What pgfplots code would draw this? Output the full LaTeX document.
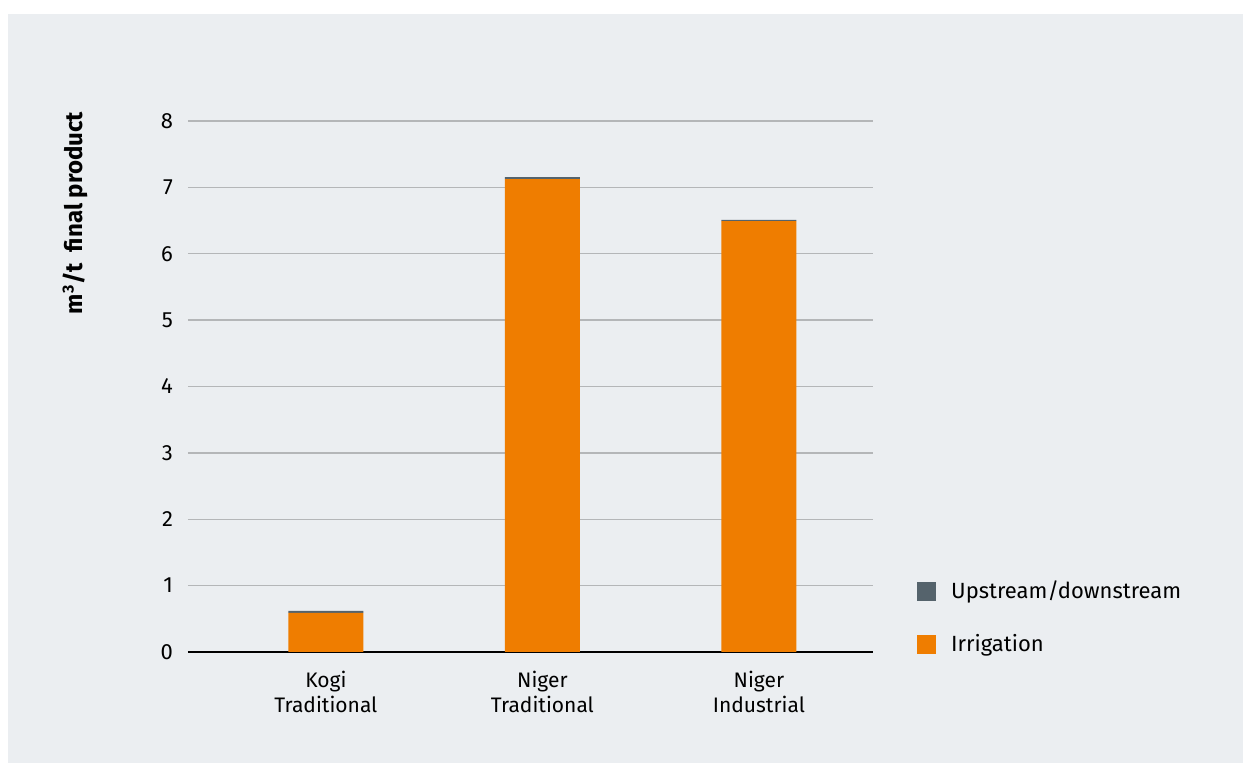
\documentclass[border=0pt]{standalone}
\usepackage{pgfplots}
\pgfplotsset{compat=1.18}
\usepackage{fontspec}
\setmainfont{Fira Sans}
\definecolor{panel}{HTML}{EBEEF1}
\definecolor{irr}{HTML}{EF7D00}
\definecolor{ups}{HTML}{55636C}
\definecolor{gridc}{HTML}{B4B6B8}
\begin{document}
\begin{tikzpicture}[x=1pt,y=1pt]
\useasboundingbox (0pt,0pt) rectangle (621.5pt,381.5pt);
\fill[white] (0pt,0pt) rectangle (621.5pt,381.5pt);
\fill[panel] (4pt,0pt) rectangle (621.5pt,374.5pt);
\node[rotate=90,font=\bfseries\fontsize{12}{14}\selectfont] at (37.5pt,275pt) {m\textsuperscript{3}/t\ \ final product};
\begin{axis}[
  at={(94pt,55.5pt)}, anchor=south west,
  scale only axis, width=342.5pt, height=265.5pt,
  ybar stacked, bar width=37.5pt,
  xmin=-0.637, xmax=2.527, ymin=0, ymax=8,
  xtick=data, xticklabels={{Kogi\\Traditional},{Niger\\Traditional},{Niger\\Industrial}},
  xticklabel style={align=center, font=\fontsize{10.5}{12.5}\selectfont, yshift=-6pt},
  ytick={0,1,...,8},
  yticklabel style={font=\fontsize{11}{12}\selectfont, xshift=-4pt},
  /pgf/number format/assume math mode=true,
  major tick length=0pt,
  ymajorgrids, grid style={gridc, line width=0.7pt},
  axis x line*=bottom, axis y line*=left,
  y axis line style={draw=none},
  x axis line style={black, line width=1pt, -},
  legend style={draw=none, fill=none, at={(1.064,0.1416)}, anchor=north west,
    font=\fontsize{11}{12}\selectfont, row sep=12.25pt, inner sep=0pt,
    /tikz/every even column/.append style={column sep=4pt}},
  legend cell align=left,
  reverse legend,
  legend image code/.code={\fill[#1] (0pt,-4.75pt) rectangle (9.5pt,4.75pt); \path (0pt,0pt) (15pt,0pt);},
]
\addplot[fill=irr, draw=none] coordinates {(0,0.59) (1,7.125) (2,6.49)};
\addlegendentry{Irrigation}
\addplot[fill=ups, draw=none] coordinates {(0,0.03) (1,0.03) (2,0.02)};
\addlegendentry{Upstream/downstream}
\end{axis}
\end{tikzpicture}
\end{document}
